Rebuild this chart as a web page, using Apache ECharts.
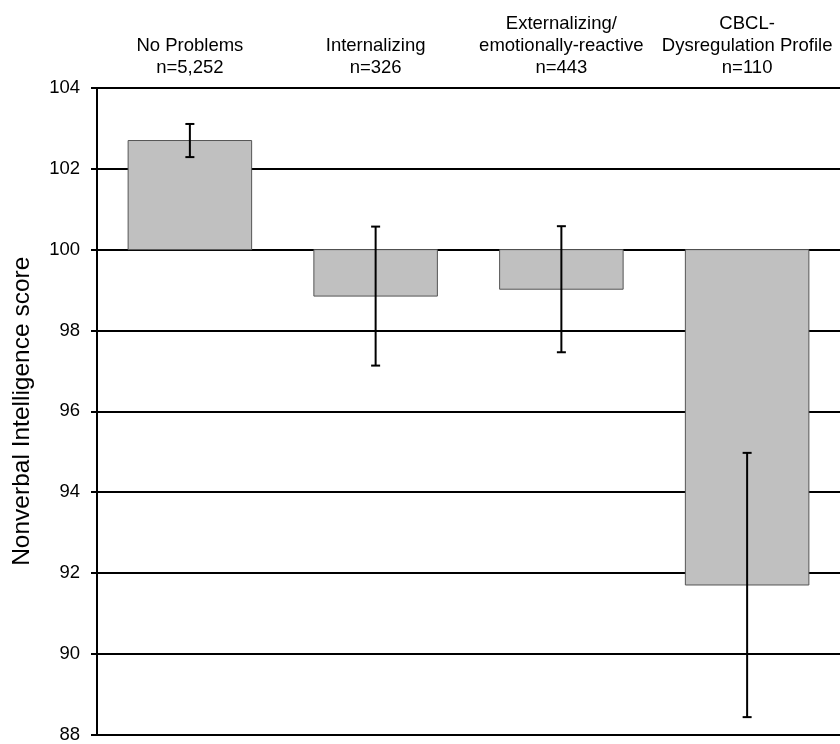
<!DOCTYPE html>
<html>
<head>
<meta charset="utf-8">
<script src="https://cdn.jsdelivr.net/npm/echarts@6/dist/echarts.min.js"></script>
<style>
html,body{margin:0;padding:0;background:#fff;}
#chart{width:840px;height:744px;}
</style>
</head>
<body>
<div id="chart"></div>
<script>
const categories = [
  "No Problems\nn=5,252",
  "Internalizing\nn=326",
  "Externalizing/\nemotionally-reactive\nn=443",
  "CBCL-\nDysregulation Profile\nn=110"
];
const means = [102.70, 98.85, 99.02, 91.70];
const errors = [0.41, 1.72, 1.56, 3.27];
const yTicks = [88, 90, 92, 94, 96, 98, 100, 102, 104];
const baseline = 100;

const chart = echarts.init(document.getElementById('chart'), null, {renderer: 'canvas'});
const FONT = 'Liberation Sans, Arial, sans-serif';

const barData = means.map((m, i) => [i, m]);
const errData = means.map((m, i) => [i, m - errors[i], m + errors[i]]);

chart.setOption({
  animation: false,
  backgroundColor: '#ffffff',
  grid: {left: 97, top: 88, width: 746, bottom: 5, containLabel: false},
  xAxis: {
    type: 'category',
    data: categories,
    position: 'top',
    axisLine: {show: false},
    axisTick: {show: false},
    splitLine: {show: false},
    axisLabel: {
      color: '#000', fontFamily: FONT, fontSize: 18.5, lineHeight: 22,
      margin: 9, interval: 0
    }
  },
  yAxis: {
    type: 'value',
    min: yTicks[0], max: yTicks[yTicks.length - 1], interval: 2,
    name: 'Nonverbal Intelligence score',
    nameLocation: 'middle',
    nameGap: 62,
    nameTextStyle: {color: '#000', fontFamily: FONT, fontSize: 24.5},
    axisLine: {show: true, lineStyle: {color: '#000', width: 2}},
    axisTick: {show: true, inside: false, length: 6, lineStyle: {color: '#000', width: 2}},
    axisLabel: {color: '#000', fontFamily: FONT, fontSize: 18.5, margin: 17},
    splitLine: {show: true, lineStyle: {color: '#000', width: 2}}
  },
  series: [
    {
      type: 'custom',
      name: 'bars',
      z: 3,
      data: barData,
      encode: {x: 0, y: 1},
      renderItem: function (params, api) {
        const idx = api.value(0);
        const top = api.coord([idx, api.value(1)]);
        const base = api.coord([idx, baseline]);
        const w = api.size([1, 0])[0] * 0.665;
        const y0 = Math.min(top[1], base[1]);
        const h = Math.abs(top[1] - base[1]);
        return {
          type: 'rect',
          shape: {x: top[0] - w / 2, y: y0, width: w, height: h},
          style: {fill: '#c0c0c0', stroke: '#555555', lineWidth: 1}
        };
      }
    },
    {
      type: 'custom',
      name: 'errors',
      z: 4,
      data: errData,
      encode: {x: 0, y: [1, 2]},
      renderItem: function (params, api) {
        const idx = api.value(0);
        const lo = api.coord([idx, api.value(1)]);
        const hi = api.coord([idx, api.value(2)]);
        const cap = 4.5;
        const st = {stroke: '#000', lineWidth: 2};
        return {
          type: 'group',
          children: [
            {type: 'line', shape: {x1: lo[0], y1: lo[1], x2: hi[0], y2: hi[1]}, style: st},
            {type: 'line', shape: {x1: lo[0] - cap, y1: lo[1], x2: lo[0] + cap, y2: lo[1]}, style: st},
            {type: 'line', shape: {x1: hi[0] - cap, y1: hi[1], x2: hi[0] + cap, y2: hi[1]}, style: st}
          ]
        };
      }
    }
  ]
});
</script>
</body>
</html>
